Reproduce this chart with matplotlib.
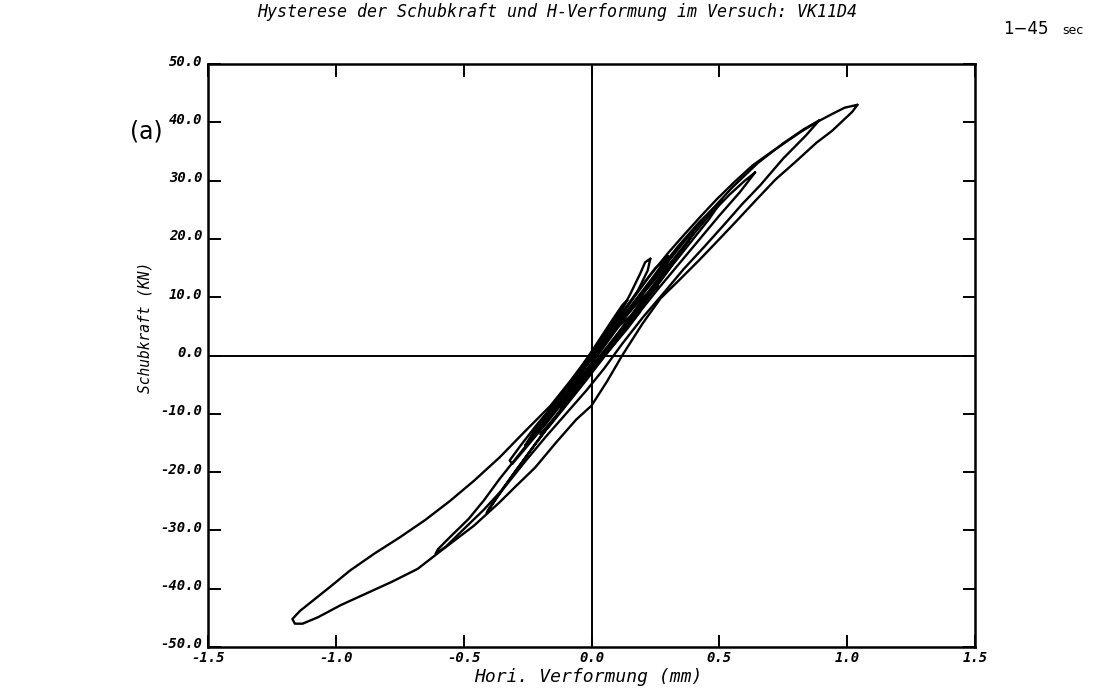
import matplotlib
matplotlib.use("Agg")
import matplotlib.pyplot as plt
import matplotlib.transforms as mtransforms

# ---------------- data ----------------
title_text = "Hysterese der Schubkraft und H-Verformung im Versuch: VK11D4"
x_label = "Hori. Verformung (mm)"
y_label = "Schubkraft (KN)"

x_ticks = [-1.5, -1.0, -0.5, 0.0, 0.5, 1.0, 1.5]
x_tick_labels = ["-1.5", "-1.0", "-0.5", "0.0", "0.5", "1.0", "1.5"]
y_ticks = [-50, -40, -30, -20, -10, 0, 10, 20, 30, 40, 50]
y_tick_labels = ["-50.0", "-40.0", "-30.0", "-20.0", "-10.0", "0.0",
                 "10.0", "20.0", "30.0", "40.0", "50.0"]

# outer loop (largest cycle)
loop_a_x = [1.04, 1.02, 0.94, 0.88, 0.80, 0.72, 0.64, 0.57, 0.49, 0.42, 0.34, 0.27,
            0.20, 0.12, 0.06, 0.00, -0.06, -0.14, -0.22, -0.30, -0.36, -0.46, -0.58,
            -0.68, -0.78, -0.88, -0.98, -1.07, -1.13, -1.16, -1.17,
            -1.14, -1.10, -1.02, -0.945, -0.85, -0.75, -0.65, -0.555, -0.46, -0.36,
            -0.26, -0.16, -0.08, 0.00, 0.08, 0.15, 0.23, 0.30, 0.36, 0.43, 0.49, 0.56,
            0.63, 0.70, 0.76, 0.82, 0.88, 0.94, 0.99, 1.04]
loop_a_y = [43.0, 41.8, 38.5, 36.5, 33.3, 30.2, 26.5, 23.2, 19.5, 16.3, 12.8, 9.8,
            5.5, 0.0, -4.5, -8.6, -11.0, -15.0, -19.2, -22.6, -25.2, -29.2, -33.2,
            -36.6, -38.8, -40.8, -42.8, -44.9, -46.0, -46.0, -45.2,
            -43.8, -42.4, -39.6, -36.9, -34.0, -31.2, -28.2, -25.0, -21.5, -17.5,
            -13.0, -8.6, -4.2, 0.5, 4.8, 9.0, 13.8, 17.6, 20.6, 24.0, 26.8, 29.8,
            32.6, 34.8, 36.6, 38.4, 40.0, 41.4, 42.5, 43.0]

# second cycle
loop_b_x = [0.89, 0.84, 0.75, 0.66, 0.59, 0.52, 0.44, 0.36, 0.28, 0.20, 0.12, 0.05,
            -0.02, -0.10, -0.18, -0.26, -0.34, -0.42, -0.50, -0.57, -0.61, -0.60,
            -0.55, -0.48, -0.42, -0.36, -0.28, -0.20, -0.12, -0.04, 0.04, 0.12, 0.20,
            0.28, 0.36, 0.45, 0.55, 0.65, 0.75, 0.83, 0.89]
loop_b_y = [40.3, 37.8, 33.8, 29.2, 26.0, 22.5, 18.6, 14.8, 10.6, 6.5, 2.0, -2.2,
            -6.0, -10.0, -14.0, -18.2, -22.6, -26.4, -29.8, -32.8, -34.0, -33.2,
            -31.0, -28.0, -24.8, -21.2, -16.8, -12.4, -8.0, -3.6, 1.0, 5.8, 10.6,
            15.0, 19.4, 24.0, 28.8, 33.0, 36.4, 38.8, 40.3]

# third cycle
loop_c_x = [0.64, 0.58, 0.50, 0.42, 0.34, 0.26, 0.18, 0.10, 0.02, -0.06, -0.14, -0.22,
            -0.30, -0.37, -0.41, -0.40, -0.34, -0.26, -0.18, -0.10, -0.02, 0.06, 0.14,
            0.22, 0.30, 0.38, 0.46, 0.54, 0.60, 0.64]
loop_c_y = [31.4, 28.0, 24.0, 19.8, 15.6, 11.4, 7.0, 2.6, -1.8, -6.2, -10.6, -15.2,
            -20.0, -24.4, -27.0, -26.2, -22.4, -17.6, -12.8, -8.2, -3.6, 1.2, 6.0,
            10.8, 15.4, 19.8, 24.0, 27.6, 30.0, 31.4]

# fourth cycle
loop_d_x = [0.51, 0.46, 0.38, 0.30, 0.22, 0.14, 0.06, -0.02, -0.10, -0.18, -0.26, -0.31,
            -0.32, -0.28, -0.22, -0.14, -0.06, 0.02, 0.10, 0.18, 0.26, 0.34, 0.42,
            0.48, 0.51]
loop_d_y = [26.6, 23.4, 19.0, 14.6, 10.2, 5.8, 1.4, -3.0, -7.4, -11.8, -16.0, -18.6,
            -18.0, -15.6, -12.2, -8.0, -3.8, 0.6, 5.2, 9.8, 14.4, 18.8, 22.8,
            25.4, 26.6]

# small cycles around the origin
loop_e_x = [0.23, 0.22, 0.18, 0.12, 0.06, 0.00, -0.06, -0.12, -0.13,
            -0.08, -0.02, 0.04, 0.10, 0.15, 0.19, 0.21, 0.23]
loop_e_y = [16.6, 14.6, 11.0, 7.0, 3.0, -1.4, -5.4, -9.0, -8.4,
            -5.6, -1.8, 2.2, 6.4, 10.4, 14.0, 16.0, 16.6]

loop_f_x = [0.33, 0.28, 0.20, 0.12, 0.04, -0.04, -0.12, -0.20, -0.22,
            -0.18, -0.10, -0.02, 0.06, 0.14, 0.22, 0.29, 0.33]
loop_f_y = [16.5, 13.4, 9.0, 4.6, 0.2, -4.2, -8.4, -12.2, -12.5,
            -10.2, -6.0, -1.6, 2.8, 7.2, 11.6, 15.2, 16.5]

loop_g_x = [0.26, 0.20, 0.12, 0.04, -0.04, -0.12, -0.16, -0.12, -0.04, 0.04, 0.12, 0.20, 0.26]
loop_g_y = [12.0, 8.8, 4.4, 0.0, -4.4, -8.2, -9.5, -7.0, -2.8, 1.6, 6.0, 10.0, 12.0]

loop_h_x = [0.19, 0.14, 0.06, -0.02, -0.10, -0.06, 0.02, 0.10, 0.16, 0.19]
loop_h_y = [7.5, 4.6, 0.4, -3.6, -6.0, -3.2, 0.8, 4.8, 7.0, 7.5]

loop_i_x = [0.14, 0.10, 0.04, -0.02, -0.06, -0.04, 0.02, 0.08, 0.12, 0.14]
loop_i_y = [9.5, 6.6, 2.8, -1.2, -5.0, -2.0, 2.0, 6.0, 8.6, 9.5]

loop_j_x = [0.40, 0.34, 0.26, 0.18, 0.10, 0.02, -0.06, -0.14, -0.20,
            -0.17, -0.10, -0.02, 0.06, 0.14, 0.22, 0.30, 0.36, 0.40]
loop_j_y = [21.0, 17.2, 12.6, 8.0, 3.4, -1.2, -5.8, -10.4, -13.5,
            -12.4, -8.6, -4.2, 0.4, 5.0, 9.8, 14.6, 18.4, 21.0]

loop_k_x = [0.30, 0.24, 0.16, 0.08, 0.00, -0.08, -0.16, -0.22, -0.26,
            -0.22, -0.14, -0.06, 0.02, 0.10, 0.18, 0.25, 0.30]
loop_k_y = [17.0, 13.4, 8.8, 4.2, -0.4, -5.0, -9.6, -13.2, -15.5,
            -12.6, -8.0, -3.4, 1.4, 6.2, 11.0, 15.0, 17.0]

loops = [(loop_a_x, loop_a_y), (loop_b_x, loop_b_y), (loop_c_x, loop_c_y),
         (loop_d_x, loop_d_y), (loop_e_x, loop_e_y), (loop_f_x, loop_f_y),
         (loop_g_x, loop_g_y), (loop_h_x, loop_h_y), (loop_i_x, loop_i_y),
         (loop_j_x, loop_j_y), (loop_k_x, loop_k_y)]

# ---------------- drawing ----------------
W, H = 1106, 692
fig = plt.figure(figsize=(W / 100, H / 100), dpi=100)
ax = fig.add_axes([208 / W, 1 - 647 / H, (975 - 208) / W, (647 - 64) / H])

for xs, ys in loops:
    ax.plot(xs, ys, color="black", lw=1.7, solid_joinstyle="round",
            solid_capstyle="round")

ax.axhline(0, color="black", lw=1.4)
ax.axvline(0, color="black", lw=1.4)

ax.set_xlim(-1.5, 1.5)
ax.set_ylim(-50, 50)

mono = "DejaVu Sans Mono"
tick_font = dict(family=mono, style="oblique", weight="bold", size=10)
ax.set_xticks(x_ticks)
ax.set_xticklabels(x_tick_labels, **tick_font)
ax.set_yticks(y_ticks)
ax.set_yticklabels(y_tick_labels, **tick_font)
ax.tick_params(direction="in", length=9, width=1.4, top=True, right=True,
               labeltop=False, labelright=False, colors="black")
ax.tick_params(axis="x", pad=3)
ax.tick_params(axis="y", pad=4)
for sp in ax.spines.values():
    sp.set_linewidth(1.8)
    sp.set_color("black")

# y tick labels sit slightly above their ticks in the reference
shift_up = mtransforms.ScaledTranslation(0, 4 / 100, fig.dpi_scale_trans)
for lab in ax.get_yticklabels():
    lab.set_transform(lab.get_transform() + shift_up)

fig.text(557 / W, 1 - 12 / H, title_text, ha="center", va="center",
         family=mono, style="oblique", size=12)
fig.text(588 / W, 1 - 677 / H, x_label, ha="center", va="center",
         family=mono, style="oblique", size=13)
fig.text(145 / W, 1 - 327 / H, y_label, ha="center", va="center", rotation=90,
         family=mono, style="oblique", size=10.5)
fig.text(146 / W, 1 - 132 / H, "(a)", ha="center", va="center",
         family="DejaVu Sans", size=17)
fig.text(1003 / W, 1 - 29 / H, "1\u221245", ha="left", va="center",
         family="DejaVu Sans", size=12)
fig.text(1062 / W, 1 - 30 / H, "sec", ha="left", va="center",
         family="DejaVu Sans", size=9)

fig.savefig("out.png", dpi=100, facecolor="white")
